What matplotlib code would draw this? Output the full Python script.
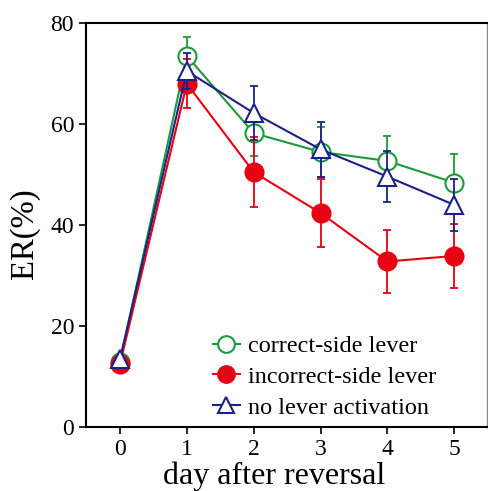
import numpy as np
import matplotlib.pyplot as plt
from matplotlib.lines import Line2D

plt.rcParams['font.family'] = ['Liberation Serif', 'DejaVu Serif']

days = [0, 1, 2, 3, 4, 5]

correct_mean = [13.0, 73.5, 58.2, 54.5, 52.7, 48.4]
correct_err = [0.0, 3.7, 4.5, 5.0, 5.0, 5.6]

incorrect_mean = [12.5, 68.0, 50.5, 42.4, 32.8, 33.9]
incorrect_err = [0.0, 4.8, 7.0, 6.7, 6.2, 6.3]

nolever_mean = [13.5, 70.5, 62.2, 55.0, 49.6, 44.0]
nolever_err = [0.0, 3.6, 5.3, 5.4, 5.0, 5.2]

labels = ['correct-side lever', 'incorrect-side lever', 'no lever activation']
colors = ['#1a9a3a', '#e60012', '#1d2088']
markers = ['o', 'o', '^']
faces = ['white', '#e60012', 'white']


def main():
    fig = plt.figure(figsize=(4.88, 4.91), dpi=100)
    ax = fig.add_axes([0.176, 0.130, 0.822, 0.823])

    series = [(correct_mean, correct_err), (incorrect_mean, incorrect_err),
              (nolever_mean, nolever_err)]
    handles = []
    for (mean, err), c, m, f, lab in zip(series, colors, markers, faces, labels):
        # no error bar on the baseline day
        ax.errorbar(days[1:], mean[1:], yerr=err[1:], fmt='none', ecolor=c,
                    elinewidth=1.3, capsize=3, capthick=1.3)
        ax.plot(days, mean, color=c, linewidth=1.5, marker=m, markersize=13,
                markerfacecolor=f, markeredgecolor=c, markeredgewidth=1.5)
        handles.append(Line2D([], [], color=c, linewidth=1.5, marker=m,
                              markersize=12, markerfacecolor=f,
                              markeredgecolor=c, markeredgewidth=1.5,
                              label=lab))

    ax.set_xlim(-0.51, 5.49)
    ax.set_ylim(0, 80)
    ax.set_xticks(days)
    ax.set_yticks([0, 20, 40, 60, 80])
    ax.tick_params(labelsize=17, length=5, width=1.2, direction='out')
    for side in ['left', 'top', 'bottom']:
        ax.spines[side].set_linewidth(1.5)
    ax.spines['right'].set_color('#888888')
    ax.spines['right'].set_linewidth(1.0)

    ax.set_xlabel('day after reversal', fontsize=23)
    ax.xaxis.set_label_coords(0.47, -0.085)
    ax.set_ylabel('ER(%)', fontsize=23.5)
    ax.yaxis.set_label_coords(-0.115, 0.48)

    ax.legend(handles=handles, loc='lower right', frameon=False, fontsize=17.5,
              handlelength=1.1, handletextpad=0.35, labelspacing=0.36,
              borderaxespad=0.2, bbox_to_anchor=(0.91, -0.015))

    fig.savefig('out.png', dpi=100)


if __name__ == "__main__":
    main()
